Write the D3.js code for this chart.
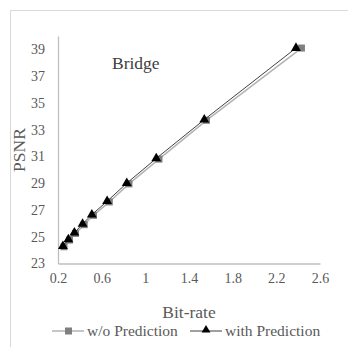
<!DOCTYPE html>
<html>
<head>
<meta charset="utf-8">
<script src="https://cdn.jsdelivr.net/npm/d3@7/dist/d3.min.js"></script>
<style>
body { margin: 0; background: #fff; }
</style>
</head>
<body>
<div id="chart"></div>
<script>
// values
var rateWithout = [0.255, 0.305, 0.36, 0.44, 0.525, 0.67, 0.85, 1.125, 1.56, 2.43];
var psnrWithout = [24.25, 24.75, 25.25, 25.9, 26.6, 27.6, 28.95, 30.8, 33.7, 39.1];
var rateWith = [0.245, 0.295, 0.35, 0.425, 0.51, 0.65, 0.83, 1.10, 1.54, 2.38];
var psnrWith = [24.3, 24.8, 25.3, 25.95, 26.65, 27.65, 29.0, 30.85, 33.75, 39.1];
var xTicks = [0.2, 0.6, 1, 1.4, 1.8, 2.2, 2.6];
var yTicks = [23, 25, 27, 29, 31, 33, 35, 37, 39];
var seriesNames = ["w/o Prediction", "with Prediction"];

var serif = '"Liberation Serif", "Times New Roman", serif';
var width = 348, height = 347;
var svg = d3.select('#chart').append('svg').attr('width', width).attr('height', height);

// outer chart border
svg.append('rect').attr('x', 10.5).attr('y', 10.5).attr('width', 360).attr('height', 360)
    .attr('fill', 'none').attr('stroke', '#d9d9d9').attr('stroke-width', 1);

var x = d3.scaleLinear().domain([0.2, 2.6]).range([58, 320]);
var y = d3.scaleLinear().domain([23, 40]).range([263.5, 36]);

function styleAxis(g) {
    g.attr('font-family', serif).attr('font-size', 13.5);
    g.select('.domain').attr('stroke', '#bfbfbf').attr('stroke-width', 1.3);
    g.selectAll('text').style('font-family', serif).style('font-size', '14px').attr('fill', '#595959');
}

// axes
svg.append('g').attr('transform', 'translate(0,' + y(23) + ')')
    .call(d3.axisBottom(x).tickValues(xTicks).tickSize(0).tickPadding(10).tickFormat(function(d) { return d; }))
    .call(styleAxis);
svg.append('g').attr('transform', 'translate(' + x(0.2) + ',0)')
    .call(d3.axisLeft(y).tickValues(yTicks).tickSize(0).tickPadding(13))
    .call(styleAxis);

// titles
svg.append('text').attr('x', 189).attr('y', 318).attr('text-anchor', 'middle')
    .style('font-family', serif).style('font-size', '17.5px').attr('fill', '#595959').text('Bit-rate');
svg.append('text').attr('transform', 'translate(25,150) rotate(-90)').attr('text-anchor', 'middle')
    .style('font-family', serif).style('font-size', '17.5px').attr('fill', '#595959').text('PSNR');
svg.append('text').attr('x', 112).attr('y', 68.5)
    .style('font-family', serif).style('font-size', '17.5px').attr('fill', '#404040').text('Bridge');

var line = d3.line().x(function(d) { return x(d[0]); }).y(function(d) { return y(d[1]); });
var dataWithout = rateWithout.map(function(r, i) { return [r, psnrWithout[i]]; });
var dataWith = rateWith.map(function(r, i) { return [r, psnrWith[i]]; });

// w/o prediction
svg.append('path').datum(dataWithout).attr('d', line).attr('fill', 'none').attr('stroke', '#b3b3b3').attr('stroke-width', 1.5);
svg.selectAll('.sq').data(dataWithout).enter().append('rect').attr('class', 'sq')
    .attr('x', function(d) { return x(d[0]) - 3.5; }).attr('y', function(d) { return y(d[1]) - 3.5; })
    .attr('width', 7).attr('height', 7).attr('fill', '#7f7f7f');

// with prediction
var tri = d3.symbol().type(d3.symbolTriangle).size(42);
svg.append('path').datum(dataWith).attr('d', line).attr('fill', 'none').attr('stroke', '#404040').attr('stroke-width', 1);
svg.selectAll('.tri').data(dataWith).enter().append('path').attr('class', 'tri')
    .attr('d', tri).attr('transform', function(d) { return 'translate(' + x(d[0]) + ',' + y(d[1]) + ')'; })
    .attr('fill', '#000');

// legend
var leg = svg.append('g');
leg.append('line').attr('x1', 52).attr('x2', 84).attr('y1', 331).attr('y2', 331).attr('stroke', '#b3b3b3').attr('stroke-width', 1.5);
leg.append('rect').attr('x', 65).attr('y', 327.5).attr('width', 7).attr('height', 7).attr('fill', '#7f7f7f');
leg.append('text').attr('x', 87).attr('y', 336).style('font-family', serif).style('font-size', '15.5px').attr('fill', '#595959').text(seriesNames[0]);
leg.append('line').attr('x1', 190).attr('x2', 222).attr('y1', 331).attr('y2', 331).attr('stroke', '#404040').attr('stroke-width', 1);
leg.append('path').attr('d', d3.symbol().type(d3.symbolTriangle).size(34)).attr('transform', 'translate(206,330)').attr('fill', '#000');
leg.append('text').attr('x', 225).attr('y', 336).style('font-family', serif).style('font-size', '15.5px').attr('fill', '#595959').text(seriesNames[1]);
</script>
</body>
</html>
